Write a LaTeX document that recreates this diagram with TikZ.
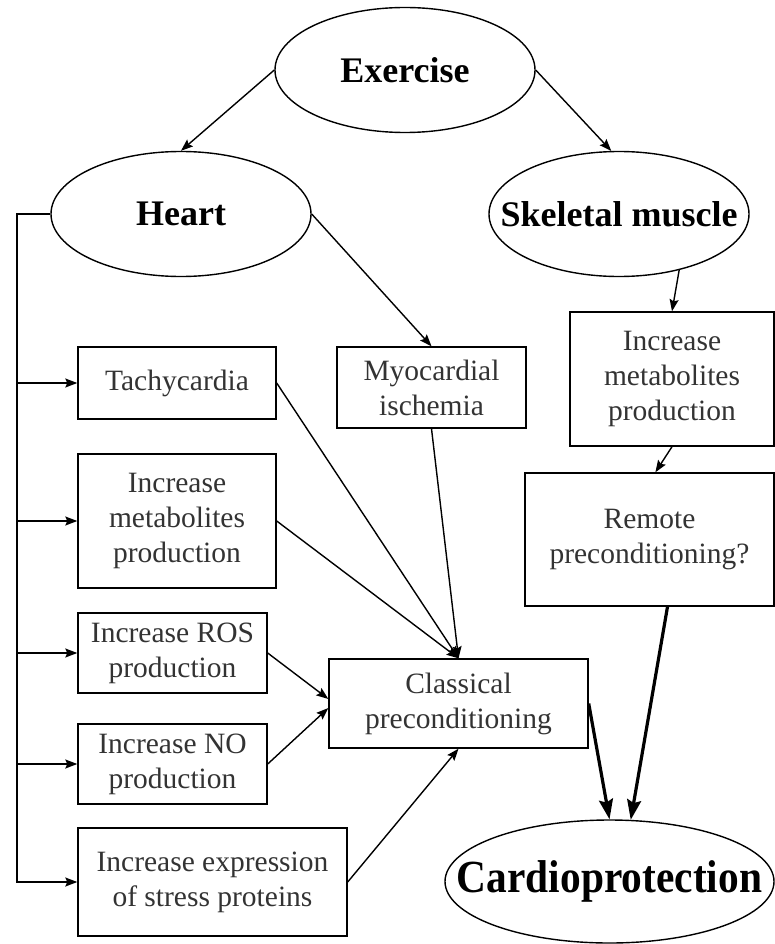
\documentclass[tikz,border=0pt]{standalone}
\usepackage{fontspec}
\usepackage{graphicx}
\setmainfont{Liberation Serif}
\usetikzlibrary{arrows.meta,shapes.geometric}

\begin{document}
\begin{tikzpicture}
  [x=1pt,y=-1pt,line width=1.4pt,
   oval/.style={ellipse,draw,minimum width=260pt,minimum height=125pt,inner sep=0pt,
     font=\fontsize{36}{40}\selectfont\bfseries},
   box/.style={rectangle,draw,align=center,inner sep=0pt,text=black!80,
     font=\fontsize{29.5}{35}\selectfont},
   arr/.style={-{Stealth[length=12pt,width=9pt,inset=2pt]}},
   bigarr/.style={line width=3.2pt,-{Stealth[length=20pt,width=14pt,inset=3pt]}}]
  \useasboundingbox (0,0) rectangle (775,944);

  % ovals
  \node[oval] (exercise) at (405,70)  {\makebox[0pt]{Exercise}};
  \node[oval] (heart)    at (181,214) {\makebox[0pt]{Heart}};
  \node[oval] (skeletal) at (619,214) {\makebox[0pt]{Skeletal muscle}};
  \node[oval,minimum width=329pt,minimum height=123pt,font=\fontsize{46}{50}\selectfont\bfseries]
    (cardio) at (609.5,881.5) {\makebox[0pt]{\scalebox{0.9}[1]{Cardioprotection}}};

  % boxes
  \node[box,minimum width=198pt,minimum height=72pt]  (tachy)  at (177,383)   {Tachycardia};
  \node[box,minimum width=198pt,minimum height=134pt] (lmetab) at (177,521)   {Increase\\metabolites\\production};
  \node[box,minimum width=189pt,minimum height=80pt]  (ros)    at (172.5,653) {Increase ROS\\production};
  \node[box,minimum width=189pt,minimum height=80pt]  (no)     at (172.5,764) {Increase NO\\production};
  \node[box,minimum width=269pt,minimum height=108pt] (stress) at (212.5,882) {Increase expression\\of stress proteins};
  \node[box,minimum width=189pt,minimum height=81pt]  (myo)    at (431.5,387.5) {Myocardial\\ischemia};
  \node[box,minimum width=259pt,minimum height=89pt]  (classic) at (458.5,703.5) {Classical\\preconditioning};
  \node[box,minimum width=204pt,minimum height=134pt] (rmetab) at (672,379)   {Increase\\metabolites\\production};
  \node[box,minimum width=249pt,minimum height=133pt] (remote) at (649.5,539.5) {Remote\\preconditioning?};

  \coordinate (bus) at (17,214);

  \draw[arr] (exercise.180) -- (heart.north);
  \draw[arr] (exercise.0) -- (skeletal.97);
  \draw[arr] (heart.east) -- (myo.north);
  \draw[arr] (skeletal.-43) -- (rmetab.north);
  \draw[arr] (rmetab.south) -- (remote.85);

  \draw[arr] (heart.west) -- (bus) |- (stress.west);
  \foreach \to in {tachy,lmetab,ros,no}
    \draw[arr] (bus |- \to.west) -- (\to.west);

  \foreach \from/\to in {tachy/classic.north,lmetab/classic.north,ros/classic.178,
                         no/classic.182,stress/classic.south}
    \draw[arr] (\from.east) -- (\to);
  \draw[arr] (myo.south) -- (classic.north);

  \draw[bigarr] (classic.east) -- (cardio.north);
  \draw[bigarr] (remote.-75) -- (cardio.71);

\end{tikzpicture}
\end{document}
